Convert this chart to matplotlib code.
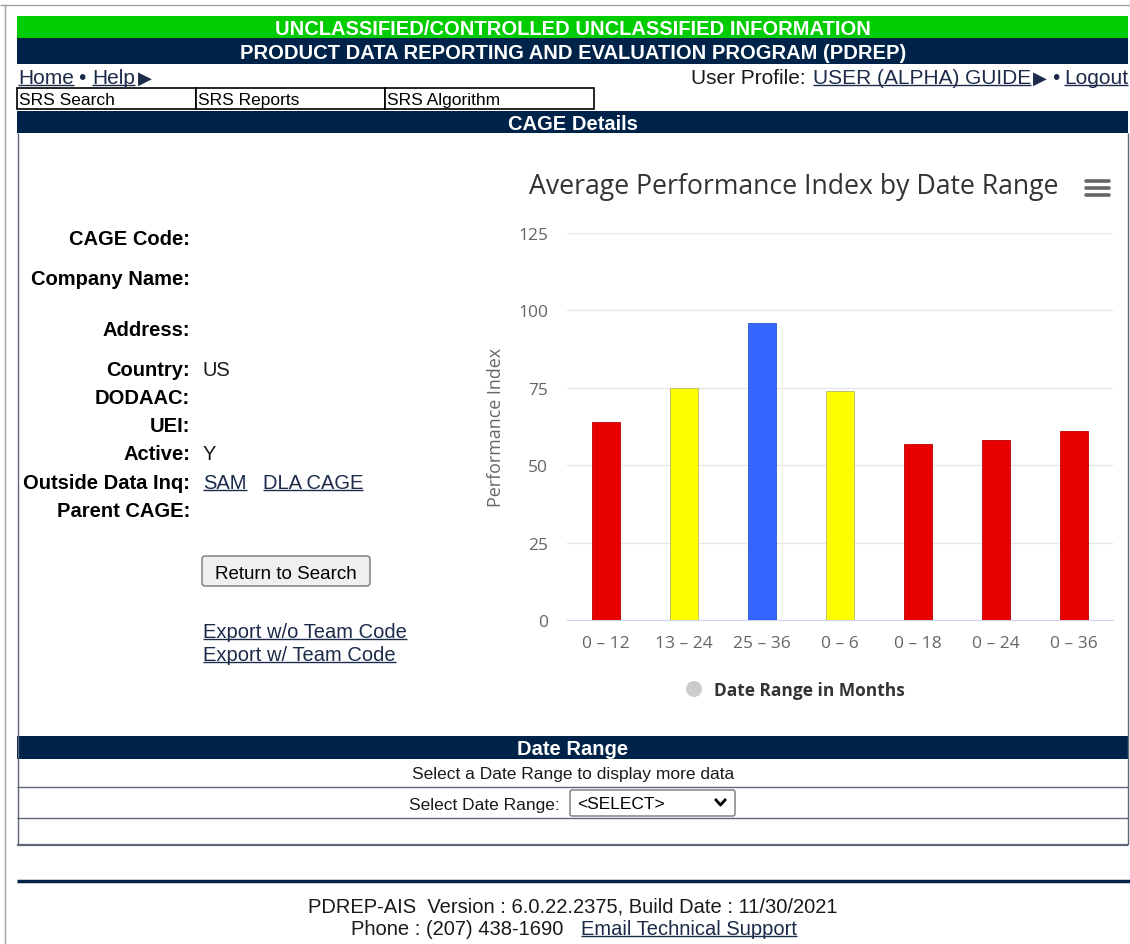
import matplotlib
matplotlib.use("Agg")
import matplotlib.pyplot as plt
from matplotlib.patches import Rectangle, FancyBboxPatch, Circle

# chart data
categories = ["0 \u2013 12", "13 \u2013 24", "25 \u2013 36", "0 \u2013 6", "0 \u2013 18", "0 \u2013 24", "0 \u2013 36"]
values = [64, 75, 96, 74, 57, 58, 61]
bar_colors = ["#e60000", "#ffff00", "#3366ff", "#ffff00", "#e60000", "#e60000", "#e60000"]
y_ticks = [0, 25, 50, 75, 100, 125]

# page text
field_labels = ["CAGE Code:", "Company Name:", "Address:", "Country:", "DODAAC:",
                "UEI:", "Active:", "Outside Data Inq:", "Parent CAGE:"]
field_values = {"Country:": "US", "Active:": "Y"}
tabs = ["SRS Search", "SRS Reports", "SRS Algorithm"]

W, H = 1130, 945
NAVY = "#00234a"
GREEN = "#00cc00"
LINK = "#1c2b4a"
FONT = ["Liberation Sans", "DejaVu Sans"]
CFONT = ["Open Sans", "DejaVu Sans"]

fig = plt.figure(figsize=(W / 100, H / 100), dpi=100)
page = fig.add_axes([0, 0, 1, 1])
page.set_xlim(0, W)
page.set_ylim(H, 0)
page.axis("off")

links = []


def txt(x, cy, s, size=15, weight="normal", color="#000000", ha="left", link=False, fam=FONT):
    base = cy + 0.358 * size * 100 / 72
    t = page.text(x, base, s, fontsize=size, fontweight=weight, color=color,
                  ha=ha, va="baseline", family=fam)
    if link:
        links.append((t, base, color))
    return t


def hline(y, x0=17, x1=1128, color="#5c6679", lw=1.0):
    page.plot([x0, x1], [y, y], color=color, lw=lw, solid_capstyle="butt")


def vline(x, y0, y1, color="#5c6679", lw=1.0):
    page.plot([x, x], [y0, y1], color=color, lw=lw, solid_capstyle="butt")


# outer frame
hline(6, 0, 1130, color="#a0a0a0")
vline(5, 6, 945, color="#a0a0a0")

# banners
page.add_patch(Rectangle((17, 17), 1111, 22, color=GREEN, lw=0))
txt(573, 28, "UNCLASSIFIED/CONTROLLED UNCLASSIFIED INFORMATION", 14.5, "bold", "white", "center")
page.add_patch(Rectangle((17, 39), 1111, 26, color=NAVY, lw=0))
txt(573, 52, "PRODUCT DATA REPORTING AND EVALUATION PROGRAM (PDREP)", 14.5, "bold", "white", "center")

# nav row
txt(18, 77, "Home", link=True, color=LINK)
txt(78, 77, "\u2022", color=LINK)
txt(92, 77, "Help", link=True, color=LINK)
txt(138, 77, "\u25B6", size=13, color=LINK)
txt(691, 77, "User Profile:", color="#1a1a1a")
txt(813, 77, "USER (ALPHA) GUIDE", link=True, color=LINK)
txt(1033, 77, "\u25B6", size=13, color=LINK)
txt(1052, 77, "\u2022", color=LINK)
txt(1128, 77, "Logout", ha="right", link=True, color=LINK)

# tabs
tab_x = [17, 196, 385, 594]
for i, name in enumerate(tabs):
    page.add_patch(Rectangle((tab_x[i], 89), tab_x[i + 1] - tab_x[i], 21,
                             fc="white", ec="#000000", lw=1.2))
    txt(tab_x[i] + 2, 99, name, 12.5)

# CAGE details box
page.add_patch(Rectangle((17, 112), 1111, 22, color=NAVY, lw=0))
txt(573, 123, "CAGE Details", 14.5, "bold", "white", "center")
vline(17.5, 134, 846)
vline(1127.5, 134, 846)

row_y = [238, 278, 329, 369, 397, 425, 453, 482, 510]
for lab, yy in zip(field_labels, row_y):
    txt(190, yy, lab, 14.5, "bold", "#000000", "right")
    if lab in field_values:
        txt(203, yy, field_values[lab], 14.5, color="#1a1a1a")
txt(203, 482, "SAM", 14.5, color=LINK, link=True)
txt(263, 482, "DLA CAGE", 14.5, color=LINK, link=True)

page.add_patch(FancyBboxPatch((202, 557), 168, 30, boxstyle="round,pad=0,rounding_size=3",
                              fc="#efefef", ec="#767676", lw=1.0))
txt(286, 572, "Return to Search", 13.5, color="#000000", ha="center")
txt(203, 631, "Export w/o Team Code", 14.5, color=LINK, link=True)
txt(203, 654, "Export w/ Team Code", 14.5, color=LINK, link=True)

# date range table
page.add_patch(Rectangle((17, 737), 1111, 23, color=NAVY, lw=0))
txt(573, 748, "Date Range", 14.5, "bold", "white", "center")
txt(573, 773, "Select a Date Range to display more data", 12.5, color="#1a1a1a", ha="center")
hline(787.5)
txt(560, 804, "Select Date Range:", 12.5, color="#1a1a1a", ha="right")
page.add_patch(FancyBboxPatch((570, 791), 165, 26, boxstyle="round,pad=0,rounding_size=2",
                              fc="white", ec="#767676", lw=1.0))
txt(577, 803, "<SELECT>", 12.5, color="#000000")
page.plot([716, 720.5, 725], [801, 806, 801], color="#000000", lw=2)
hline(818.5)
hline(846, lw=1.6)

# footer
hline(882, 17, 1130, color=NAVY, lw=2.5)
txt(573, 905, "PDREP-AIS  Version : 6.0.22.2375, Build Date : 11/30/2021", 14.5, color="#1a1a1a", ha="center")
txt(351, 928, "Phone : (207) 438-1690", 14.5, color="#1a1a1a")
txt(581, 928, "Email Technical Support", 14.5, color=LINK, link=True)

# chart
txt(794, 184, "Average Performance Index by Date Range", 19.2, color="#333333", ha="center", fam=CFONT)
for yy in (182, 189, 196):
    page.plot([1086, 1109], [yy, yy], color="#666666", lw=2.6, solid_capstyle="round")

ax = fig.add_axes([567 / W, (H - 621) / H, (1113 - 567) / W, 387 / H])
ax.set_facecolor("none")
x = range(len(categories))
edge = ["#c00000" if c == "#e60000" else "#b8b860" if c == "#ffff00" else "#2a55d0" for c in bar_colors]
ax.bar(x, values, width=0.37, color=bar_colors, edgecolor=edge, linewidth=0.6, zorder=3)
ax.set_xlim(-0.5, len(categories) - 0.5)
ax.set_ylim(0, 125)
ax.set_yticks(y_ticks)
ax.set_xticks(list(x))
ax.set_xticklabels(categories)
ax.grid(axis="y", color="#e6e6e6", lw=1, zorder=0)
for s in ("top", "right", "left"):
    ax.spines[s].set_visible(False)
ax.spines["bottom"].set_color("#ccd6eb")
ax.tick_params(axis="y", length=0, pad=13.5, labelsize=12.5, labelcolor="#666666")
ax.tick_params(axis="x", length=0, pad=11, labelsize=12.5, labelcolor="#666666")
for lbl in ax.get_xticklabels() + ax.get_yticklabels():
    lbl.set_family(CFONT)
ax.set_ylabel("Performance Index", fontsize=12.9, color="#666666", family=CFONT)
ax.yaxis.set_label_coords(-0.113, 0.5)

page.add_patch(Circle((694, 690), 8, color="#cccccc", lw=0))
txt(714, 690, "Date Range in Months", 12.5, "bold", "#333333", fam=CFONT)

# underlines for links
fig.canvas.draw()
r = fig.canvas.get_renderer()
for t, base, col in links:
    bb = t.get_window_extent(r)
    hline(base + 2, bb.x0, bb.x1, color=col, lw=1.0)

fig.savefig("out.png", dpi=100)
